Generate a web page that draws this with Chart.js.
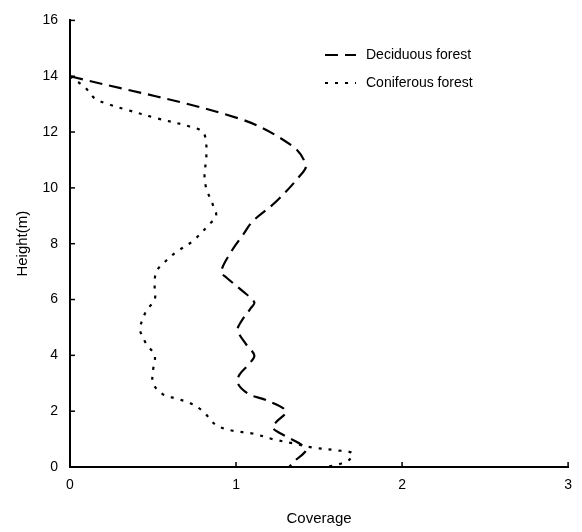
<!DOCTYPE html>
<html>
<head>
<meta charset="utf-8">
<script src="https://cdn.jsdelivr.net/npm/chart.js@4/dist/chart.umd.min.js"></script>
<style>
  html, body { margin: 0; padding: 0; background: #fff; }
  #wrap { width: 582px; height: 532px; }
</style>
</head>
<body>
<div id="wrap"><canvas id="chart"></canvas></div>
<script>
// Coverage (x) against height (y)
const deciduousCoverage = [0, 1.01, 1.34, 1.42, 1.38, 1.24, 1.10, 1.04, 0.98, 0.91, 0.94, 1.04, 1.11, 1.09, 1.03, 1.01, 1.06, 1.11, 1.08, 1.02, 1.01, 1.08, 1.18, 1.30, 1.24, 1.22, 1.30, 1.38, 1.42, 1.36, 1.32];
const deciduousHeight   = [14, 12.5, 11.5, 10.8, 10.4, 9.5, 8.8, 8.3, 7.8, 7.0, 6.8, 6.3, 5.9, 5.7, 5.2, 4.9, 4.4, 4.0, 3.7, 3.3, 3.0, 2.6, 2.4, 2.0, 1.6, 1.4, 1.1, 0.85, 0.6, 0.25, 0];

const coniferousCoverage = [0, 0.09, 0.15, 0.23, 0.34, 0.52, 0.72, 0.80, 0.82, 0.82, 0.81, 0.82, 0.86, 0.88, 0.84, 0.74, 0.64, 0.58, 0.52, 0.51, 0.51, 0.46, 0.42, 0.42, 0.46, 0.51, 0.50, 0.50, 0.56, 0.64, 0.72, 0.80, 0.88, 0.98, 1.10, 1.22, 1.34, 1.46, 1.60, 1.70, 1.68, 1.60, 1.52];
const coniferousHeight   = [14, 13.6, 13.2, 13.0, 12.8, 12.5, 12.2, 12.0, 11.6, 11.0, 10.5, 10.0, 9.4, 9.0, 8.7, 8.1, 7.7, 7.4, 7.0, 6.5, 6.0, 5.6, 5.0, 4.9, 4.4, 4.0, 3.45, 3.0, 2.6, 2.45, 2.3, 2.0, 1.5, 1.3, 1.2, 1.0, 0.85, 0.7, 0.6, 0.5, 0.25, 0.07, 0];

const seriesNames = ['Deciduous forest', 'Coniferous forest'];
const xTicks = [0, 1, 2, 3];
const yTicks = [0, 2, 4, 6, 8, 10, 12, 14, 16];

const toPoints = (xs, ys) => xs.map((x, i) => ({ x: x, y: ys[i] }));

const FONT = 'Arial, "Liberation Sans", sans-serif';

// inward tick marks on both axes
const innerTicks = {
  id: 'innerTicks',
  afterDraw(chart) {
    const ctx = chart.ctx;
    const xs = chart.scales.x, ys = chart.scales.y;
    const area = chart.chartArea;
    ctx.save();
    ctx.strokeStyle = '#000';
    ctx.lineWidth = 1.5;
    xTicks.forEach(v => {
      const px = xs.getPixelForValue(v);
      ctx.beginPath();
      ctx.moveTo(px, area.bottom);
      ctx.lineTo(px, area.bottom - 5);
      ctx.stroke();
    });
    yTicks.forEach(v => {
      const py = ys.getPixelForValue(v);
      ctx.beginPath();
      ctx.moveTo(area.left, py);
      ctx.lineTo(area.left + 5, py);
      ctx.stroke();
    });
    ctx.restore();
  }
};

// legend drawn inside the plot, top right
const innerLegend = {
  id: 'innerLegend',
  afterDraw(chart) {
    const ctx = chart.ctx;
    ctx.save();
    ctx.font = '14px ' + FONT;
    ctx.fillStyle = '#000';
    ctx.textBaseline = 'middle';
    chart.data.datasets.forEach((ds, i) => {
      const y = 55 + i * 28;
      ctx.strokeStyle = '#000';
      ctx.lineWidth = 2;
      ctx.setLineDash(ds.borderDash);
      ctx.beginPath();
      ctx.moveTo(325, y);
      ctx.lineTo(356, y);
      ctx.stroke();
      ctx.setLineDash([]);
      ctx.fillText(ds.label, 366, y);
    });
    ctx.restore();
  }
};

new Chart(document.getElementById('chart'), {
  type: 'scatter',
  data: {
    datasets: [
      {
        label: seriesNames[0],
        data: toPoints(deciduousCoverage, deciduousHeight),
        showLine: true,
        borderColor: '#000',
        borderWidth: 2.2,
        borderDash: [13, 7],
        pointRadius: 0,
        tension: 0.35
      },
      {
        label: seriesNames[1],
        data: toPoints(coniferousCoverage, coniferousHeight),
        showLine: true,
        borderColor: '#000',
        borderWidth: 2.2,
        borderDash: [3, 7],
        pointRadius: 0,
        tension: 0.35
      }
    ]
  },
  options: {
    responsive: true,
    maintainAspectRatio: false,
    animation: false,
    layout: { padding: { top: 17, right: 11, left: 0, bottom: 0 } },
    plugins: {
      legend: { display: false },
      tooltip: { enabled: false }
    },
    scales: {
      x: {
        type: 'linear',
        min: 0,
        max: 3,
        afterBuildTicks: s => { s.ticks = xTicks.map(v => ({ value: v })); },
        afterFit: s => { s.height = 65; },
        grid: { display: false, drawTicks: false },
        border: { color: '#000', width: 2 },
        ticks: { color: '#000', font: { size: 14, family: FONT }, padding: 10 },
        title: { display: true, text: 'Coverage', color: '#000', font: { size: 15, family: FONT }, padding: { top: 13 } }
      },
      y: {
        type: 'linear',
        min: 0,
        max: 16,
        afterBuildTicks: s => { s.ticks = yTicks.map(v => ({ value: v })); },
        afterFit: s => { s.width = 70; },
        grid: { display: false, drawTicks: false },
        border: { color: '#000', width: 2 },
        ticks: { color: '#000', font: { size: 14, family: FONT }, padding: 12 },
        title: { display: true, text: 'Height(m)', color: '#000', font: { size: 15, family: FONT }, padding: { top: 14, bottom: 0 } }
      }
    }
  },
  plugins: [innerTicks, innerLegend]
});
</script>
</body>
</html>
